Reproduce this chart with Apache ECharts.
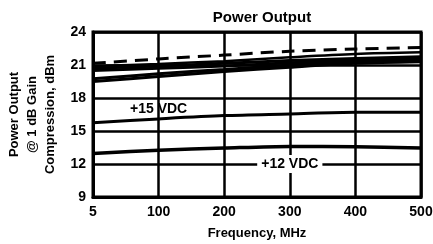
<!DOCTYPE html>
<html>
<head>
<meta charset="utf-8">
<script src="https://cdn.jsdelivr.net/npm/echarts@6/dist/echarts.min.js"></script>
<style>
  html, body { margin: 0; padding: 0; background: #fff; }
  #main { width: 433px; height: 244px; }
</style>
</head>
<body>
<div id="main"></div>
<script>
// частоты, МГц
const freq = ['5', '100', '200', '300', '400', '500'];
const yTicks = [9, 12, 15, 18, 21, 24];

// верхняя пачка кривых (пунктир + сплошные)
const dashTop = [21.15, 21.55, 21.9, 22.25, 22.45, 22.6];
const lineA = [20.9, 21.1, 21.35, 21.7, 22.0, 22.15];
const lineB = [20.7, 20.9, 21.15, 21.4, 21.6, 21.75];
const lineC = [20.5, 20.7, 20.9, 21.2, 21.4, 21.55];
const lineD = [19.75, 20.2, 20.6, 21.0, 21.3, 21.45];
const lineE = [19.5, 19.95, 20.4, 20.8, 21.15, 21.3];
// +15 VDC и +12 VDC
const vdc15 = [15.75, 16.1, 16.4, 16.55, 16.7, 16.7];
const vdc12 = [12.95, 13.25, 13.45, 13.6, 13.57, 13.45];

const font = 'Liberation Sans, Arial, sans-serif';

function solid(data, w) {
    return {
        type: 'line', data: data, symbol: 'none', smooth: 0.3,
        lineStyle: {color: '#000', width: w || 3}
    };
}

let chart = echarts.init(document.getElementById('main'), null, {renderer: 'canvas'});

let s15 = solid(vdc15);
s15.markPoint = {
    symbol: 'rect', symbolSize: 0,
    data: [{coord: ['100', 17.0]}],
    label: {show: true, formatter: '+15 VDC', color: '#000', fontFamily: font,
            fontWeight: 'bold', fontSize: 14, position: 'inside'}
};
let s12 = solid(vdc12, 3.5);
s12.markPoint = {
    symbol: 'rect', symbolSize: 0,
    data: [{coord: ['300', 12]}],
    label: {show: true, formatter: '+12 VDC', color: '#000', fontFamily: font,
            fontWeight: 'bold', fontSize: 14, position: 'inside',
            backgroundColor: '#fff', padding: [2, 4]}
};

chart.setOption({
    animation: false,
    title: {
        text: 'Power Output', left: 257, top: 5, textAlign: 'center',
        textStyle: {fontFamily: font, fontWeight: 'bold', fontSize: 15, color: '#000'}
    },
    grid: {left: 93, right: 12, top: 32, bottom: 47, show: true,
           outerBoundsMode: 'none', containLabel: false,
           borderColor: '#000', borderWidth: 3, backgroundColor: 'transparent'},
    xAxis: {
        type: 'category', data: freq, boundaryGap: false,
        name: 'Frequency, MHz', nameLocation: 'middle', nameGap: 30,
        nameTextStyle: {fontFamily: font, fontWeight: 'bold', fontSize: 13, color: '#000'},
        axisLine: {lineStyle: {color: '#000', width: 3}},
        axisTick: {show: false},
        axisLabel: {fontFamily: font, fontWeight: 'bold', fontSize: 14, color: '#000', margin: 8},
        splitLine: {show: true, lineStyle: {color: '#000', width: 2.5}}
    },
    yAxis: {
        type: 'value', min: yTicks[0], max: yTicks[yTicks.length - 1], interval: 3,
        name: 'Power Output\n@ 1 dB Gain\nCompression, dBm', nameLocation: 'middle', nameGap: 31,
        nameTextStyle: {fontFamily: font, fontWeight: 'bold', fontSize: 13, color: '#000', lineHeight: 18},
        axisLine: {show: true, lineStyle: {color: '#000', width: 3}},
        axisTick: {show: false},
        axisLabel: {fontFamily: font, fontWeight: 'bold', fontSize: 14, color: '#000', margin: 7},
        splitLine: {show: true, lineStyle: {color: '#000', width: 2.5}}
    },
    series: [
        {type: 'line', data: dashTop, symbol: 'none', smooth: 0.3,
         lineStyle: {color: '#000', width: 3, type: [13, 8]}},
        solid(lineA, 2.5),
        solid(lineB),
        solid(lineC),
        solid(lineD),
        solid(lineE),
        s15,
        s12
    ]
});
</script>
</body>
</html>
